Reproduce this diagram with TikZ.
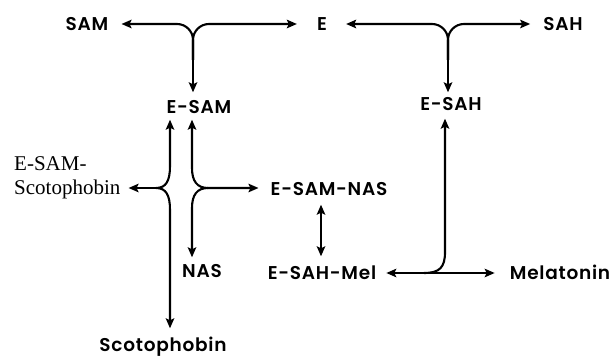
\documentclass[tikz,border=0pt]{standalone}
\usepackage{fontspec}
\newfontfamily\lab{Poppins SemiBold}[LetterSpace=4]
\newfontfamily\ser{Liberation Serif}
\usetikzlibrary{arrows.meta}
\begin{document}
\begin{tikzpicture}[x=1pt,y=-1pt,
  >={Stealth[length=10pt,width=8.5pt,inset=2pt]},
  lbl/.style={font=\lab\fontsize{18.5}{22}\selectfont, inner sep=0pt, text height=13pt, text depth=0pt},
  serlbl/.style={font=\ser\fontsize{21}{24}\selectfont, inner sep=0pt, align=left},
  conn/.style={line width=2.1pt, line join=round}]
\useasboundingbox (0,0) rectangle (610,358);
% nodes
\node[lbl] (SAM) at (87,24) {SAM};
\node[lbl] (E) at (322,24) {E};
\node[lbl] (SAH) at (563,24) {SAH};
\node[lbl] (ESAM) at (199,107) {E-SAM};
\node[lbl] (ESAH) at (451,104) {E-SAH};
\node[serlbl, anchor=north west] (ESAMS) at (14,156) {E-SAM-\\Scotophobin};
\node[lbl] (ESAMNAS) at (329,189) {E-SAM-NAS};
\node[lbl] (NAS) at (202,271) {NAS};
\node[lbl] (ESAHMel) at (322,273) {E-SAH-Mel};
\node[lbl] (Mel) at (560,273) {Melatonin};
\node[lbl] (Scoto) at (163,345) {Scotophobin};
% fork SAM / E -> E-SAM
\coordinate (f1) at (193,60);
\draw[conn,->,rounded corners=16pt] (f1) |- ([xshift=13pt]SAM.east);
\draw[conn,->,rounded corners=16pt] (f1) |- ([xshift=-20pt]E.west);
\draw[conn,->,shorten >=8pt] (f1) -- (f1 |- ESAM.north);
% fork E / SAH -> E-SAH
\coordinate (f2) at (448,60);
\draw[conn,->,rounded corners=16pt] (f2) |- ([xshift=19pt]E.east);
\draw[conn,->,rounded corners=16pt] (f2) |- ([xshift=-13pt]SAH.west);
\draw[conn,->,shorten >=5pt] (f2) -- (f2 |- ESAH.north);
% left brace
\coordinate (bl) at (156,188);
\draw[conn,<->] ([xshift=-29pt,yshift=-6pt]ESAM.south) -- (170,166)
  .. controls (170,181) and (166,188) .. (bl)
  .. controls (166,188) and (170,195) .. (170,210)
  -- ([xshift=7pt,yshift=10pt]Scoto.north);
\draw[conn,->,shorten >=8pt] (bl) -- (bl -| ESAMS.east);
% right brace
\coordinate (br) at (208,188);
\draw[conn,<->,shorten >=12pt] ([xshift=-7pt,yshift=-6pt]ESAM.south) -- (192,168)
  .. controls (192,181) and (197,188) .. (br) -- (br -| ESAMNAS.west);
\draw[conn,->] (br) .. controls (197,188) and (192,195) .. (192,208)
  -- ([xshift=-10pt,yshift=7pt]NAS.north);
% E-SAM-NAS <-> E-SAH-Mel
\draw[conn,<->] ([xshift=-8pt,yshift=-9pt]ESAMNAS.south) -- ([xshift=-8pt,yshift=10pt]ESAMNAS.south |- ESAHMel.north);
% E-SAH-Mel <-> Melatonin, branch to E-SAH
\draw[conn,<->] ([xshift=10pt]ESAHMel.east) -- ([xshift=-15pt]Mel.west);
\draw[conn,<-] ([xshift=-6pt,yshift=-8pt]ESAH.south) -- (445,252)
  .. controls (445,267) and (440,273) .. (424,273);
\end{tikzpicture}
\end{document}
